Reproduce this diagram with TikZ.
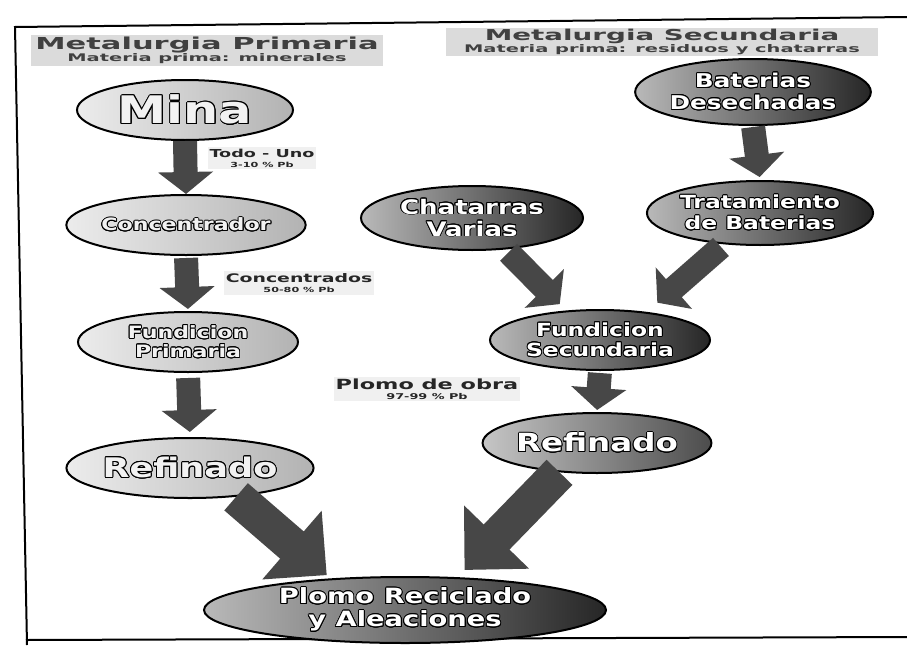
\documentclass[tikz,border=0pt]{standalone}
\usepackage{fontspec}
\setmainfont{DejaVu Sans}
\newfontfamily\wf[FakeStretch=1.3]{DejaVu Sans}
\newfontfamily\hf[FakeStretch=1.6]{DejaVu Sans}
\newfontfamily\hhf[FakeStretch=1.85]{DejaVu Sans}
\usepackage[copies]{contour}
\contourlength{0.9pt}
\newcommand{\ct}[1]{\contour{black}{#1}}
\usetikzlibrary{arrows.meta,shapes.geometric}
\tikzset{
  ell/.style={ellipse, draw=black, line width=2pt, inner sep=0pt, align=center},
  lightell/.style={ell, left color=gray!15, right color=gray!60, text=gray!10},
  darkell/.style={ell, left color=gray!55, right color=black!85, text=white},
  midell/.style={ell, left color=gray!45, right color=black!70, text=white},
  hdr/.style={fill=gray!28, inner sep=1pt, align=center, text=black!75, font=\hhf\bfseries},
  lbl/.style={fill=gray!12, inner sep=2pt, align=center, text=black!85, font=\hf\bfseries},
  darr/.style={line width=24pt, draw=black!72, -{Triangle[width=54pt,length=22pt]}},
  bigarr/.style={line width=36pt, draw=black!72, -{Triangle[width=88pt,length=46pt]}},
}
\begin{document}
\begin{tikzpicture}[x=1pt,y=-1pt]
\useasboundingbox (0,0) rectangle (907,645);
\fill[white] (0,0) rectangle (907,645);
% frame
\draw[line width=2pt] (907,17) -- (15,27) -- (27,645);
\draw[line width=2pt] (26,640) -- (907,637);

% headers
\node[hdr, minimum width=352pt, minimum height=31pt] (hp) at (207,50)
  {{\fontsize{16.5}{18}\selectfont Metalurgia Primaria}\\[0pt]{\fontsize{10.5}{11}\selectfont Materia prima: minerales}};
\node[hdr, minimum width=432pt, minimum height=28pt] (hs) at (662,42)
  {{\fontsize{15}{16}\selectfont Metalurgia Secundaria}\\[0pt]{\fontsize{10.5}{11}\selectfont Materia prima: residuos y chatarras}};

% left column
\node[lightell, minimum width=216pt, minimum height=60pt, font=\wf\bfseries\fontsize{38}{40}\selectfont] (mina) at (185,110) {\ct{Mina}};
\node[lightell, minimum width=218pt, minimum height=60pt, font=\wf\bfseries\fontsize{17}{18}\selectfont] (conc) at (186,225) {\ct{Concentrador}};
\node[lightell, minimum width=220pt, minimum height=60pt, font=\wf\bfseries\fontsize{17}{19}\selectfont] (fundp) at (188,342) {\ct{Fundicion}\\\ct{Primaria}};
\node[lightell, minimum width=224pt, minimum height=60pt, font=\wf\bfseries\fontsize{27}{28}\selectfont] (refl) at (190,468) {\ct{Refinado}};

% right column
\node[darkell, minimum width=226pt, minimum height=66pt, font=\wf\bfseries\fontsize{19}{22}\selectfont] (bat) at (753,92) {\ct{Baterias}\\\ct{Desechadas}};
\node[darkell, minimum width=226pt, minimum height=64pt, font=\wf\bfseries\fontsize{18}{21}\selectfont] (trat) at (760,213) {\ct{Tratamiento}\\\ct{de Baterias}};
\node[darkell, minimum width=222pt, minimum height=64pt, font=\wf\bfseries\fontsize{20}{22}\selectfont] (chat) at (472,218) {\ct{Chatarras}\\\ct{Varias}};
\node[darkell, minimum width=220pt, minimum height=60pt, font=\wf\bfseries\fontsize{18}{20}\selectfont] (funds) at (600,340) {\ct{Fundicion}\\\ct{Secundaria}};
\node[midell, minimum width=224pt, minimum height=60pt, font=\wf\bfseries\fontsize{25}{27}\selectfont] (refr) at (597,443) {\ct{Refinado}};

% bottom
\node[darkell, minimum width=402pt, minimum height=66pt, font=\wf\bfseries\fontsize{21}{23}\selectfont] (plomo) at (405,610) {\ct{Plomo Reciclado}\\\ct{y Aleaciones}};

% labels
\node[lbl] (todo) at (262,158) {{\fontsize{11}{12}\selectfont Todo - Uno}\\[-2pt]{\fontsize{7}{8}\selectfont 3-10 \% Pb}};
\node[lbl] (concl) at (299,283) {{\fontsize{11.8}{12}\selectfont Concentrados}\\[-2pt]{\fontsize{7}{8}\selectfont 50-80 \% Pb}};
\node[lbl] (obra) at (427,389) {{\fontsize{14}{15}\selectfont Plomo de obra}\\[-2pt]{\fontsize{8}{9}\selectfont 97-99 \% Pb}};

% arrows
\draw[darr] (mina.south) -- (conc.north);
\draw[darr, shorten <=2pt, shorten >=2pt] (conc.south) -- (fundp.north);
\draw[darr, shorten <=5pt, shorten >=5pt] (fundp.south) -- (refl.north);
\draw[darr, shorten <=1pt, shorten >=3pt] (bat.south) -- (trat.north);
\draw[darr, shorten <=4pt, shorten >=9pt] (chat.-43) -- (funds.139);
\draw[darr, shorten <=4pt, shorten >=14pt] (trat.221) -- (funds.31);
\draw[darr, shorten <=2pt, shorten >=2pt] (funds.south) -- (refr.north);
\draw[bigarr, shorten >=5pt] (refl.-32) -- (plomo.157);
\draw[bigarr, shorten >=10pt] (refr.218) -- (plomo.32);
\end{tikzpicture}
\end{document}
